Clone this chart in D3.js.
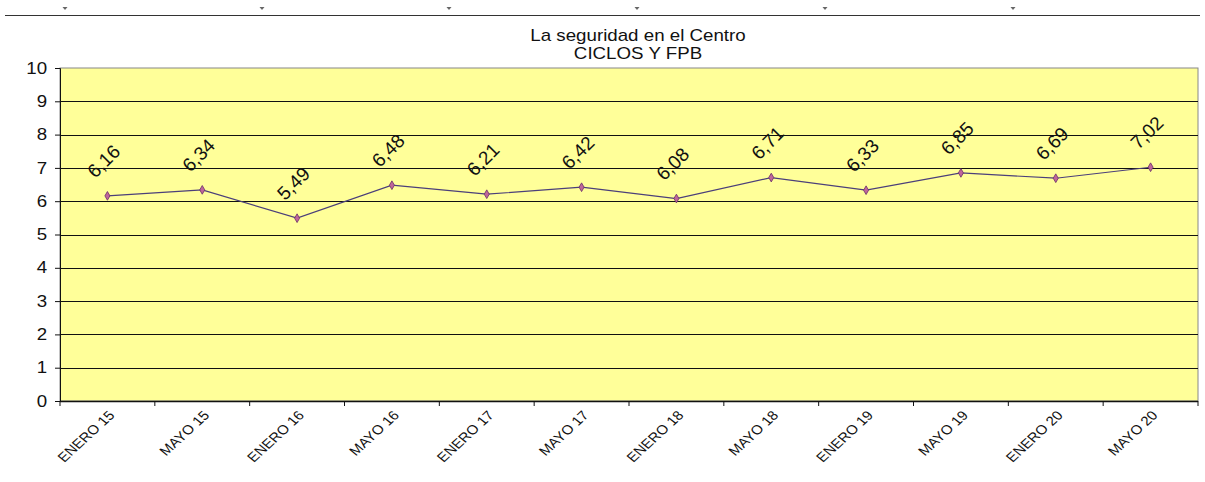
<!DOCTYPE html>
<html>
<head>
<meta charset="utf-8">
<script src="https://cdn.jsdelivr.net/npm/d3@7"></script>
<style>
  body { margin: 0; background: #fff; }
  svg { display: block; font-family: 'Liberation Sans', Arial, sans-serif; }
</style>
</head>
<body>
<svg id="chart"></svg>
<script>
// chart data
const categories = ['ENERO 15', 'MAYO 15', 'ENERO 16', 'MAYO 16', 'ENERO 17', 'MAYO 17',
  'ENERO 18', 'MAYO 18', 'ENERO 19', 'MAYO 19', 'ENERO 20', 'MAYO 20'];
const values = [6.16, 6.34, 5.49, 6.48, 6.21, 6.42, 6.08, 6.71, 6.33, 6.85, 6.69, 7.02];
const yTicks = [0, 1, 2, 3, 4, 5, 6, 7, 8, 9, 10];
const titleLines = ['La seguridad  en el Centro', 'CICLOS Y FPB'];
const topMarks = [65, 262, 449, 637, 825, 1013];

const width = 1205;
const height = 482;
const margin = { left: 60, right: 7, top: 68, bottom: 81 };
const stretch = 1.17; // the source image is a bit wider than tall

const svg = d3.select('#chart').attr('width', width).attr('height', height);

// strip across the top (page header remains)
svg.append('line')
  .attr('x1', 5).attr('x2', 1200)
  .attr('y1', 15.5).attr('y2', 15.5)
  .attr('stroke', '#333').attr('stroke-width', 1.2);
svg.selectAll('.topmark')
  .data(topMarks)
  .enter()
  .append('path')
  .attr('class', 'topmark')
  .attr('d', (d) => 'M' + (d - 2.5) + ',7 L' + (d + 2.5) + ',7 L' + d + ',10 Z')
  .attr('fill', '#666');

const xScale = d3.scaleBand()
  .domain(categories)
  .range([margin.left, width - margin.right]);

const yScale = d3.scaleLinear()
  .domain([0, 10])
  .range([height - margin.bottom, margin.top]);

// plot background
svg.append('rect')
  .attr('x', margin.left)
  .attr('y', margin.top)
  .attr('width', width - margin.left - margin.right)
  .attr('height', height - margin.top - margin.bottom)
  .attr('fill', '#ffff99')
  .attr('stroke', '#888')
  .attr('stroke-width', 1);

// gridlines
svg.selectAll('.grid')
  .data(yTicks.filter((d) => d > 0 && d < 10))
  .enter()
  .append('line')
  .attr('class', 'grid')
  .attr('x1', margin.left)
  .attr('x2', width - margin.right)
  .attr('y1', (d) => Math.round(yScale(d)) + 0.5)
  .attr('y2', (d) => Math.round(yScale(d)) + 0.5)
  .attr('stroke', '#111')
  .attr('stroke-width', 1);

// y axis
const yAxis = d3.axisLeft(yScale).tickValues(yTicks).tickSize(5).tickPadding(6);
const gy = svg.append('g')
  .attr('transform', 'translate(' + margin.left + ',0)')
  .call(yAxis);
gy.select('.domain').attr('stroke', '#111');
gy.selectAll('.tick line').attr('stroke', '#111');
gy.selectAll('.tick text')
  .attr('transform', 'scale(' + stretch + ',1)')
  .style('font-size', '16px')
  .attr('fill', '#111');

// x axis with ticks at category borders
const xBorders = categories.map((c) => xScale(c)).concat([width - margin.right]);
const gx = svg.append('g')
  .attr('transform', 'translate(0,' + (height - margin.bottom) + ')');
gx.append('line')
  .attr('x1', margin.left).attr('x2', width - margin.right)
  .attr('y1', 0.5).attr('y2', 0.5)
  .attr('stroke', '#111').attr('stroke-width', 1.5);
gx.selectAll('.xtick')
  .data(xBorders)
  .enter()
  .append('line')
  .attr('class', 'xtick')
  .attr('x1', (d) => d).attr('x2', (d) => d)
  .attr('y1', 0).attr('y2', 5)
  .attr('stroke', '#111');
gx.selectAll('.xlabel')
  .data(categories)
  .enter()
  .append('text')
  .attr('class', 'xlabel')
  .attr('text-anchor', 'end')
  .attr('transform', (d) => 'translate(' + (xScale(d) + xScale.bandwidth() / 2 + 8) + ',15) scale(' + stretch + ',1) rotate(-47)')
  .style('font-size', '13px')
  .attr('fill', '#111')
  .text((d) => d);

// series line
const cx = (d, i) => xScale(categories[i]) + xScale.bandwidth() / 2;
const line = d3.line()
  .x((d, i) => cx(d, i))
  .y((d) => yScale(d));

svg.append('path')
  .datum(values)
  .attr('d', line)
  .attr('fill', 'none')
  .attr('stroke', '#4b3f7a')
  .attr('stroke-width', 1.2);

// diamond markers
svg.selectAll('.marker')
  .data(values)
  .enter()
  .append('path')
  .attr('class', 'marker')
  .attr('d', d3.symbol().type(d3.symbolDiamond).size(22))
  .attr('transform', (d, i) => 'translate(' + cx(d, i) + ',' + yScale(d) + ')')
  .attr('fill', '#c0669a')
  .attr('stroke', '#6a2f6a')
  .attr('stroke-width', 0.8);

// data labels
svg.selectAll('.dlabel')
  .data(values)
  .enter()
  .append('text')
  .attr('class', 'dlabel')
  .attr('text-anchor', 'middle')
  .attr('transform', (d, i) => 'translate(' + (cx(d, i) + 1) + ',' + (yScale(d) - 30) + ') rotate(-45)')
  .style('font-size', '19px')
  .attr('fill', '#111')
  .text((d) => d.toFixed(2).replace('.', ','));

// title
svg.selectAll('.title')
  .data(titleLines)
  .enter()
  .append('text')
  .attr('class', 'title')
  .attr('transform', (d, i) => 'translate(638,' + (41 + i * 18) + ') scale(' + stretch + ',1)')
  .attr('text-anchor', 'middle')
  .style('font-size', '16px')
  .attr('fill', '#111')
  .text((d) => d);
</script>
</body>
</html>
